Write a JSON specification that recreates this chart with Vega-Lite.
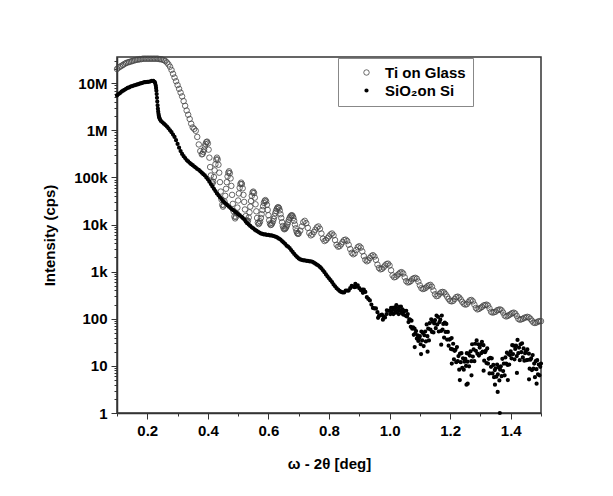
{
"$schema": "https://vega.github.io/schema/vega-lite/v6.json",
"width": 424, "height": 356,
"autosize": {"type": "none"},
"padding": {"left": 117, "top": 57, "right": 72, "bottom": 83},
"background": "white",
"config": {
 "view": {"stroke": "#333333", "strokeWidth": 1.5},
 "font": "Liberation Sans",
 "axis": {"labelFont": "Liberation Sans", "labelFontSize": 15, "labelFontWeight": "bold", "labelColor": "#000000", "titleFont": "Liberation Sans", "titleFontSize": 15, "titleFontWeight": "bold", "titleColor": "#000000", "domainColor": "#333333", "domainWidth": 1.5, "tickColor": "#333333", "tickWidth": 1, "grid": false, "labelOverlap": false, "labelFlush": false, "labelBound": false},
 "legend": {"labelFont": "Liberation Sans", "labelFontSize": 15, "labelFontWeight": "bold", "labelColor": "#000000", "strokeColor": "#888888", "fillColor": "#ffffff", "padding": 7, "symbolOffset": 14, "labelOffset": 11, "rowPadding": 2, "symbolType": "circle", "labelLimit": 200}
},
"data": {"values": [
{"s":"Ti","x":0.1,"y":2.0e7},{"s":"Ti","x":0.105,"y":2.14e7},{"s":"Ti","x":0.11,"y":2.24e7},{"s":"Ti","x":0.115,"y":2.34e7},{"s":"Ti","x":0.12,"y":2.45e7},{"s":"Ti","x":0.125,"y":2.57e7},{"s":"Ti","x":0.13,"y":2.69e7},{"s":"Ti","x":0.135,"y":2.75e7},{"s":"Ti","x":0.14,"y":2.82e7},{"s":"Ti","x":0.145,"y":2.88e7},{"s":"Ti","x":0.15,"y":2.95e7},{"s":"Ti","x":0.155,"y":3.02e7},{"s":"Ti","x":0.16,"y":3.09e7},{"s":"Ti","x":0.165,"y":3.16e7},{"s":"Ti","x":0.17,"y":3.16e7},{"s":"Ti","x":0.175,"y":3.24e7},{"s":"Ti","x":0.18,"y":3.24e7},{"s":"Ti","x":0.185,"y":3.31e7},{"s":"Ti","x":0.19,"y":3.31e7},{"s":"Ti","x":0.195,"y":3.31e7},{"s":"Ti","x":0.2,"y":3.31e7},{"s":"Ti","x":0.205,"y":3.31e7},{"s":"Ti","x":0.21,"y":3.31e7},{"s":"Ti","x":0.215,"y":3.31e7},{"s":"Ti","x":0.22,"y":3.31e7},{"s":"Ti","x":0.225,"y":3.31e7},{"s":"Ti","x":0.23,"y":3.31e7},{"s":"Ti","x":0.235,"y":3.31e7},{"s":"Ti","x":0.24,"y":3.24e7},{"s":"Ti","x":0.245,"y":3.24e7},{"s":"Ti","x":0.25,"y":3.16e7},{"s":"Ti","x":0.255,"y":3.09e7},{"s":"Ti","x":0.26,"y":2.95e7},{"s":"Ti","x":0.265,"y":2.75e7},{"s":"Ti","x":0.27,"y":2.51e7},{"s":"Ti","x":0.275,"y":2.24e7},{"s":"Ti","x":0.28,"y":1.91e7},{"s":"Ti","x":0.285,"y":1.58e7},{"s":"Ti","x":0.29,"y":1.32e7},{"s":"Ti","x":0.295,"y":1.10e7},{"s":"Ti","x":0.3,"y":9.12e6},{"s":"Ti","x":0.305,"y":7.59e6},{"s":"Ti","x":0.31,"y":6.31e6},{"s":"Ti","x":0.315,"y":5.25e6},{"s":"Ti","x":0.32,"y":4.17e6},{"s":"Ti","x":0.325,"y":3.31e6},{"s":"Ti","x":0.33,"y":2.63e6},{"s":"Ti","x":0.335,"y":2.14e6},{"s":"Ti","x":0.34,"y":1.74e6},{"s":"Ti","x":0.345,"y":1.38e6},{"s":"Ti","x":0.35,"y":1.15e6},{"s":"Ti","x":0.355,"y":1.07e6},{"s":"Ti","x":0.36,"y":9.77e5},{"s":"Ti","x":0.365,"y":7.24e5},{"s":"Ti","x":0.37,"y":5.01e5},{"s":"Ti","x":0.375,"y":3.63e5},
{"s":"Ti","x":0.38,"y":3.09e5},{"s":"Ti","x":0.3825,"y":3.16e5},{"s":"Ti","x":0.385,"y":3.47e5},{"s":"Ti","x":0.3875,"y":3.89e5},{"s":"Ti","x":0.39,"y":4.57e5},{"s":"Ti","x":0.3925,"y":5.13e5},{"s":"Ti","x":0.395,"y":5.62e5},{"s":"Ti","x":0.3975,"y":5.75e5},{"s":"Ti","x":0.4,"y":5.25e5},{"s":"Ti","x":0.4025,"y":3.89e5},{"s":"Ti","x":0.405,"y":2.63e5},{"s":"Ti","x":0.4075,"y":1.66e5},{"s":"Ti","x":0.41,"y":1.10e5},{"s":"Ti","x":0.4125,"y":8.13e4},{"s":"Ti","x":0.415,"y":7.41e4},{"s":"Ti","x":0.4175,"y":8.13e4},{"s":"Ti","x":0.42,"y":1.02e5},{"s":"Ti","x":0.4225,"y":1.41e5},{"s":"Ti","x":0.425,"y":1.91e5},{"s":"Ti","x":0.4275,"y":2.40e5},{"s":"Ti","x":0.43,"y":2.63e5},{"s":"Ti","x":0.4325,"y":2.40e5},{"s":"Ti","x":0.435,"y":1.86e5},{"s":"Ti","x":0.4375,"y":1.26e5},{"s":"Ti","x":0.44,"y":7.94e4},{"s":"Ti","x":0.4425,"y":5.01e4},{"s":"Ti","x":0.445,"y":3.39e4},{"s":"Ti","x":0.4475,"y":2.63e4},{"s":"Ti","x":0.45,"y":2.40e4},{"s":"Ti","x":0.4525,"y":2.57e4},{"s":"Ti","x":0.455,"y":3.09e4},{"s":"Ti","x":0.4575,"y":4.07e4},{"s":"Ti","x":0.46,"y":5.75e4},{"s":"Ti","x":0.4625,"y":7.94e4},{"s":"Ti","x":0.465,"y":1.05e5},{"s":"Ti","x":0.4675,"y":1.26e5},{"s":"Ti","x":0.47,"y":1.35e5},{"s":"Ti","x":0.4725,"y":1.23e5},{"s":"Ti","x":0.475,"y":9.55e4},{"s":"Ti","x":0.4775,"y":6.61e4},{"s":"Ti","x":0.48,"y":4.27e4},{"s":"Ti","x":0.4825,"y":2.75e4},{"s":"Ti","x":0.485,"y":1.91e4},{"s":"Ti","x":0.4875,"y":1.48e4},{"s":"Ti","x":0.49,"y":1.35e4},{"s":"Ti","x":0.4925,"y":1.45e4},{"s":"Ti","x":0.495,"y":1.74e4},{"s":"Ti","x":0.4975,"y":2.29e4},{"s":"Ti","x":0.5,"y":3.24e4},{"s":"Ti","x":0.5025,"y":4.57e4},{"s":"Ti","x":0.505,"y":6.03e4},{"s":"Ti","x":0.5075,"y":7.24e4},{"s":"Ti","x":0.51,"y":7.76e4},{"s":"Ti","x":0.5125,"y":7.24e4},{"s":"Ti","x":0.515,"y":5.89e4},{"s":"Ti","x":0.5175,"y":4.27e4},{"s":"Ti","x":0.52,"y":3.02e4},{"s":"Ti","x":0.5225,"y":2.09e4},{"s":"Ti","x":0.525,"y":1.51e4},{"s":"Ti","x":0.5275,"y":1.23e4},{"s":"Ti","x":0.53,"y":1.15e4},{"s":"Ti","x":0.5325,"y":1.20e4},{"s":"Ti","x":0.535,"y":1.41e4},{"s":"Ti","x":0.5375,"y":1.82e4},{"s":"Ti","x":0.54,"y":2.40e4},{"s":"Ti","x":0.5425,"y":3.16e4},{"s":"Ti","x":0.545,"y":4.07e4},{"s":"Ti","x":0.5475,"y":4.79e4},{"s":"Ti","x":0.55,"y":5.01e4},{"s":"Ti","x":0.5525,"y":4.68e4},{"s":"Ti","x":0.555,"y":3.72e4},{"s":"Ti","x":0.5575,"y":2.69e4},{"s":"Ti","x":0.56,"y":1.91e4},{"s":"Ti","x":0.5625,"y":1.38e4},{"s":"Ti","x":0.565,"y":1.10e4},{"s":"Ti","x":0.5675,"y":1.02e4},{"s":"Ti","x":0.57,"y":1.07e4},{"s":"Ti","x":0.5725,"y":1.17e4},{"s":"Ti","x":0.575,"y":1.38e4},{"s":"Ti","x":0.5775,"y":1.66e4},{"s":"Ti","x":0.58,"y":2.04e4},{"s":"Ti","x":0.5825,"y":2.45e4},{"s":"Ti","x":0.585,"y":2.88e4},{"s":"Ti","x":0.5875,"y":3.16e4},{"s":"Ti","x":0.59,"y":3.31e4},{"s":"Ti","x":0.5925,"y":3.09e4},{"s":"Ti","x":0.595,"y":2.63e4},{"s":"Ti","x":0.5975,"y":2.04e4},{"s":"Ti","x":0.6,"y":1.58e4},{"s":"Ti","x":0.6025,"y":1.23e4},{"s":"Ti","x":0.605,"y":1.05e4},{"s":"Ti","x":0.6075,"y":9.77e3},{"s":"Ti","x":0.61,"y":1.0e4},{"s":"Ti","x":0.6125,"y":1.07e4},{"s":"Ti","x":0.615,"y":1.17e4},{"s":"Ti","x":0.6175,"y":1.32e4},{"s":"Ti","x":0.62,"y":1.51e4},{"s":"Ti","x":0.6225,"y":1.74e4},{"s":"Ti","x":0.625,"y":1.95e4},{"s":"Ti","x":0.6275,"y":2.14e4},{"s":"Ti","x":0.63,"y":2.29e4},{"s":"Ti","x":0.6325,"y":2.34e4},{"s":"Ti","x":0.635,"y":2.24e4},{"s":"Ti","x":0.6375,"y":2.0e4},{"s":"Ti","x":0.64,"y":1.66e4},{"s":"Ti","x":0.6425,"y":1.38e4},{"s":"Ti","x":0.645,"y":1.12e4},{"s":"Ti","x":0.6475,"y":9.33e3},{"s":"Ti","x":0.65,"y":8.32e3},{"s":"Ti","x":0.6525,"y":7.94e3},{"s":"Ti","x":0.655,"y":8.13e3},{"s":"Ti","x":0.6575,"y":8.51e3},{"s":"Ti","x":0.66,"y":9.12e3},{"s":"Ti","x":0.6625,"y":1.0e4},{"s":"Ti","x":0.665,"y":1.12e4},{"s":"Ti","x":0.6675,"y":1.26e4},{"s":"Ti","x":0.67,"y":1.38e4},{"s":"Ti","x":0.6725,"y":1.48e4},{"s":"Ti","x":0.675,"y":1.55e4},{"s":"Ti","x":0.6775,"y":1.58e4},{"s":"Ti","x":0.68,"y":1.51e4},{"s":"Ti","x":0.6825,"y":1.38e4},{"s":"Ti","x":0.685,"y":1.20e4},{"s":"Ti","x":0.6875,"y":1.0e4},{"s":"Ti","x":0.69,"y":8.32e3},{"s":"Ti","x":0.6925,"y":7.24e3},{"s":"Ti","x":0.695,"y":6.61e3},{"s":"Ti","x":0.6975,"y":6.31e3},
{"s":"Ti","x":0.7,"y":6.46e3},{"s":"Ti","x":0.705,"y":7.41e3},{"s":"Ti","x":0.71,"y":9.12e3},{"s":"Ti","x":0.715,"y":1.12e4},{"s":"Ti","x":0.72,"y":1.20e4},{"s":"Ti","x":0.725,"y":1.07e4},{"s":"Ti","x":0.73,"y":8.51e3},{"s":"Ti","x":0.735,"y":6.61e3},{"s":"Ti","x":0.74,"y":5.89e3},{"s":"Ti","x":0.745,"y":6.17e3},{"s":"Ti","x":0.75,"y":6.92e3},{"s":"Ti","x":0.755,"y":7.76e3},{"s":"Ti","x":0.76,"y":8.71e3},{"s":"Ti","x":0.765,"y":9.12e3},{"s":"Ti","x":0.77,"y":8.13e3},{"s":"Ti","x":0.775,"y":6.46e3},{"s":"Ti","x":0.78,"y":5.01e3},{"s":"Ti","x":0.785,"y":4.47e3},{"s":"Ti","x":0.79,"y":4.68e3},{"s":"Ti","x":0.795,"y":5.13e3},{"s":"Ti","x":0.8,"y":5.62e3},{"s":"Ti","x":0.805,"y":6.17e3},{"s":"Ti","x":0.81,"y":6.46e3},{"s":"Ti","x":0.815,"y":5.89e3},{"s":"Ti","x":0.82,"y":4.68e3},{"s":"Ti","x":0.825,"y":3.72e3},{"s":"Ti","x":0.83,"y":3.39e3},{"s":"Ti","x":0.835,"y":3.47e3},{"s":"Ti","x":0.84,"y":3.80e3},{"s":"Ti","x":0.845,"y":4.27e3},{"s":"Ti","x":0.85,"y":4.68e3},{"s":"Ti","x":0.855,"y":4.79e3},{"s":"Ti","x":0.86,"y":4.47e3},{"s":"Ti","x":0.865,"y":3.72e3},{"s":"Ti","x":0.87,"y":3.02e3},{"s":"Ti","x":0.875,"y":2.51e3},{"s":"Ti","x":0.88,"y":2.34e3},{"s":"Ti","x":0.885,"y":2.45e3},{"s":"Ti","x":0.89,"y":2.88e3},{"s":"Ti","x":0.895,"y":3.31e3},{"s":"Ti","x":0.9,"y":3.47e3},{"s":"Ti","x":0.905,"y":3.24e3},{"s":"Ti","x":0.91,"y":2.69e3},{"s":"Ti","x":0.915,"y":2.14e3},{"s":"Ti","x":0.92,"y":1.78e3},{"s":"Ti","x":0.925,"y":1.66e3},{"s":"Ti","x":0.93,"y":1.74e3},{"s":"Ti","x":0.935,"y":1.95e3},{"s":"Ti","x":0.94,"y":2.14e3},{"s":"Ti","x":0.945,"y":2.24e3},{"s":"Ti","x":0.95,"y":2.09e3},{"s":"Ti","x":0.955,"y":1.78e3},{"s":"Ti","x":0.96,"y":1.41e3},{"s":"Ti","x":0.965,"y":1.20e3},{"s":"Ti","x":0.97,"y":1.12e3},{"s":"Ti","x":0.975,"y":1.15e3},{"s":"Ti","x":0.98,"y":1.23e3},{"s":"Ti","x":0.985,"y":1.35e3},{"s":"Ti","x":0.99,"y":1.45e3},{"s":"Ti","x":0.995,"y":1.48e3},{"s":"Ti","x":1.0,"y":1.35e3},{"s":"Ti","x":1.005,"y":1.07e3},{"s":"Ti","x":1.01,"y":832},{"s":"Ti","x":1.015,"y":759},{"s":"Ti","x":1.02,"y":776},{"s":"Ti","x":1.025,"y":832},{"s":"Ti","x":1.03,"y":891},{"s":"Ti","x":1.035,"y":955},{"s":"Ti","x":1.04,"y":977},{"s":"Ti","x":1.045,"y":912},{"s":"Ti","x":1.05,"y":759},{"s":"Ti","x":1.055,"y":631},{"s":"Ti","x":1.06,"y":589},{"s":"Ti","x":1.065,"y":603},{"s":"Ti","x":1.07,"y":631},{"s":"Ti","x":1.075,"y":692},{"s":"Ti","x":1.08,"y":724},{"s":"Ti","x":1.085,"y":741},{"s":"Ti","x":1.09,"y":708},{"s":"Ti","x":1.095,"y":617},{"s":"Ti","x":1.1,"y":513},{"s":"Ti","x":1.105,"y":447},{"s":"Ti","x":1.11,"y":427},{"s":"Ti","x":1.115,"y":437},{"s":"Ti","x":1.12,"y":457},{"s":"Ti","x":1.125,"y":490},{"s":"Ti","x":1.13,"y":513},{"s":"Ti","x":1.135,"y":525},{"s":"Ti","x":1.14,"y":479},{"s":"Ti","x":1.145,"y":398},{"s":"Ti","x":1.15,"y":331},{"s":"Ti","x":1.155,"y":302},{"s":"Ti","x":1.16,"y":309},{"s":"Ti","x":1.165,"y":339},{"s":"Ti","x":1.17,"y":363},{"s":"Ti","x":1.175,"y":372},{"s":"Ti","x":1.18,"y":363},{"s":"Ti","x":1.185,"y":331},{"s":"Ti","x":1.19,"y":295},{"s":"Ti","x":1.195,"y":263},{"s":"Ti","x":1.2,"y":240},{"s":"Ti","x":1.205,"y":234},{"s":"Ti","x":1.21,"y":240},{"s":"Ti","x":1.215,"y":263},{"s":"Ti","x":1.22,"y":288},{"s":"Ti","x":1.225,"y":295},{"s":"Ti","x":1.23,"y":282},{"s":"Ti","x":1.235,"y":257},{"s":"Ti","x":1.24,"y":229},{"s":"Ti","x":1.245,"y":209},{"s":"Ti","x":1.25,"y":200},{"s":"Ti","x":1.255,"y":204},{"s":"Ti","x":1.26,"y":224},{"s":"Ti","x":1.265,"y":245},{"s":"Ti","x":1.27,"y":251},{"s":"Ti","x":1.275,"y":234},{"s":"Ti","x":1.28,"y":200},{"s":"Ti","x":1.285,"y":170},{"s":"Ti","x":1.29,"y":158},{"s":"Ti","x":1.295,"y":162},{"s":"Ti","x":1.3,"y":170},{"s":"Ti","x":1.305,"y":178},{"s":"Ti","x":1.31,"y":191},{"s":"Ti","x":1.315,"y":195},{"s":"Ti","x":1.32,"y":200},{"s":"Ti","x":1.325,"y":191},{"s":"Ti","x":1.33,"y":166},{"s":"Ti","x":1.335,"y":141},{"s":"Ti","x":1.34,"y":135},{"s":"Ti","x":1.345,"y":138},{"s":"Ti","x":1.35,"y":141},{"s":"Ti","x":1.355,"y":151},{"s":"Ti","x":1.36,"y":155},{"s":"Ti","x":1.365,"y":158},{"s":"Ti","x":1.37,"y":151},{"s":"Ti","x":1.375,"y":135},{"s":"Ti","x":1.38,"y":117},{"s":"Ti","x":1.385,"y":112},{"s":"Ti","x":1.39,"y":115},{"s":"Ti","x":1.395,"y":120},{"s":"Ti","x":1.4,"y":126},{"s":"Ti","x":1.405,"y":132},{"s":"Ti","x":1.41,"y":135},{"s":"Ti","x":1.415,"y":129},{"s":"Ti","x":1.42,"y":115},{"s":"Ti","x":1.425,"y":100},{"s":"Ti","x":1.43,"y":95.5},{"s":"Ti","x":1.435,"y":97.7},{"s":"Ti","x":1.44,"y":100},{"s":"Ti","x":1.445,"y":105},{"s":"Ti","x":1.45,"y":107},{"s":"Ti","x":1.455,"y":110},{"s":"Ti","x":1.46,"y":107},{"s":"Ti","x":1.465,"y":100},{"s":"Ti","x":1.47,"y":91.2},{"s":"Ti","x":1.475,"y":83.2},{"s":"Ti","x":1.48,"y":81.3},{"s":"Ti","x":1.485,"y":83.2},{"s":"Ti","x":1.49,"y":87.1},{"s":"Ti","x":1.495,"y":89.1},{"s":"Ti","x":1.5,"y":89.1},
{"s":"Si","x":0.1,"y":5.50e6},{"s":"Si","x":0.105,"y":5.89e6},{"s":"Si","x":0.11,"y":6.17e6},{"s":"Si","x":0.115,"y":6.61e6},{"s":"Si","x":0.12,"y":6.92e6},{"s":"Si","x":0.125,"y":7.24e6},{"s":"Si","x":0.13,"y":7.59e6},{"s":"Si","x":0.135,"y":7.94e6},{"s":"Si","x":0.14,"y":8.13e6},{"s":"Si","x":0.145,"y":8.51e6},{"s":"Si","x":0.15,"y":8.71e6},{"s":"Si","x":0.155,"y":8.91e6},{"s":"Si","x":0.16,"y":9.12e6},{"s":"Si","x":0.165,"y":9.33e6},{"s":"Si","x":0.17,"y":9.55e6},{"s":"Si","x":0.175,"y":9.77e6},{"s":"Si","x":0.18,"y":1.0e7},{"s":"Si","x":0.185,"y":1.02e7},{"s":"Si","x":0.19,"y":1.05e7},{"s":"Si","x":0.195,"y":1.05e7},{"s":"Si","x":0.2,"y":1.07e7},{"s":"Si","x":0.205,"y":1.07e7},{"s":"Si","x":0.21,"y":1.10e7},{"s":"Si","x":0.215,"y":1.12e7},{"s":"Si","x":0.22,"y":1.12e7},{"s":"Si","x":0.224,"y":1.07e7},{"s":"Si","x":0.226,"y":1.0e7},{"s":"Si","x":0.228,"y":8.91e6},{"s":"Si","x":0.229,"y":7.94e6},{"s":"Si","x":0.23,"y":6.92e6},{"s":"Si","x":0.231,"y":5.89e6},{"s":"Si","x":0.232,"y":4.90e6},{"s":"Si","x":0.233,"y":4.07e6},{"s":"Si","x":0.234,"y":3.39e6},{"s":"Si","x":0.235,"y":2.88e6},{"s":"Si","x":0.236,"y":2.51e6},{"s":"Si","x":0.237,"y":2.24e6},{"s":"Si","x":0.238,"y":2.04e6},{"s":"Si","x":0.239,"y":1.91e6},{"s":"Si","x":0.24,"y":1.82e6},{"s":"Si","x":0.242,"y":1.70e6},{"s":"Si","x":0.245,"y":1.58e6},{"s":"Si","x":0.25,"y":1.48e6},{"s":"Si","x":0.255,"y":1.38e6},{"s":"Si","x":0.26,"y":1.29e6},{"s":"Si","x":0.265,"y":1.20e6},{"s":"Si","x":0.27,"y":1.10e6},{"s":"Si","x":0.275,"y":1.0e6},{"s":"Si","x":0.28,"y":9.12e5},{"s":"Si","x":0.285,"y":8.13e5},{"s":"Si","x":0.29,"y":7.24e5},{"s":"Si","x":0.295,"y":6.17e5},{"s":"Si","x":0.3,"y":5.13e5},{"s":"Si","x":0.305,"y":4.27e5},{"s":"Si","x":0.31,"y":3.63e5},{"s":"Si","x":0.315,"y":3.16e5},{"s":"Si","x":0.32,"y":2.82e5},{"s":"Si","x":0.325,"y":2.57e5},{"s":"Si","x":0.33,"y":2.34e5},{"s":"Si","x":0.335,"y":2.19e5},{"s":"Si","x":0.34,"y":2.04e5},{"s":"Si","x":0.345,"y":1.91e5},{"s":"Si","x":0.35,"y":1.82e5},{"s":"Si","x":0.355,"y":1.70e5},{"s":"Si","x":0.36,"y":1.62e5},{"s":"Si","x":0.365,"y":1.51e5},{"s":"Si","x":0.37,"y":1.45e5},{"s":"Si","x":0.375,"y":1.35e5},{"s":"Si","x":0.38,"y":1.26e5},{"s":"Si","x":0.385,"y":1.17e5},{"s":"Si","x":0.39,"y":1.10e5},{"s":"Si","x":0.395,"y":1.0e5},{"s":"Si","x":0.4,"y":9.12e4},{"s":"Si","x":0.405,"y":8.13e4},{"s":"Si","x":0.41,"y":7.24e4},{"s":"Si","x":0.415,"y":6.46e4},{"s":"Si","x":0.42,"y":5.75e4},{"s":"Si","x":0.425,"y":5.13e4},{"s":"Si","x":0.43,"y":4.57e4},{"s":"Si","x":0.435,"y":4.17e4},{"s":"Si","x":0.44,"y":3.80e4},{"s":"Si","x":0.445,"y":3.47e4},{"s":"Si","x":0.45,"y":3.16e4},{"s":"Si","x":0.455,"y":2.95e4},{"s":"Si","x":0.46,"y":2.75e4},{"s":"Si","x":0.465,"y":2.57e4},{"s":"Si","x":0.47,"y":2.40e4},{"s":"Si","x":0.475,"y":2.24e4},{"s":"Si","x":0.48,"y":2.09e4},{"s":"Si","x":0.485,"y":2.0e4},{"s":"Si","x":0.49,"y":1.86e4},{"s":"Si","x":0.495,"y":1.78e4},{"s":"Si","x":0.5,"y":1.66e4},{"s":"Si","x":0.505,"y":1.58e4},{"s":"Si","x":0.51,"y":1.48e4},{"s":"Si","x":0.515,"y":1.38e4},{"s":"Si","x":0.52,"y":1.29e4},{"s":"Si","x":0.525,"y":1.17e4},{"s":"Si","x":0.53,"y":1.07e4},{"s":"Si","x":0.535,"y":1.0e4},{"s":"Si","x":0.54,"y":9.33e3},{"s":"Si","x":0.545,"y":8.71e3},{"s":"Si","x":0.55,"y":8.32e3},{"s":"Si","x":0.555,"y":7.76e3},{"s":"Si","x":0.56,"y":7.41e3},{"s":"Si","x":0.565,"y":7.08e3},{"s":"Si","x":0.57,"y":6.76e3},{"s":"Si","x":0.575,"y":6.46e3},{"s":"Si","x":0.58,"y":6.31e3},{"s":"Si","x":0.585,"y":6.17e3},{"s":"Si","x":0.59,"y":6.17e3},{"s":"Si","x":0.595,"y":6.03e3},{"s":"Si","x":0.6,"y":6.03e3},{"s":"Si","x":0.605,"y":5.89e3},{"s":"Si","x":0.61,"y":5.89e3},{"s":"Si","x":0.615,"y":5.75e3},{"s":"Si","x":0.62,"y":5.62e3},{"s":"Si","x":0.625,"y":5.50e3},{"s":"Si","x":0.63,"y":5.25e3},{"s":"Si","x":0.635,"y":5.01e3},{"s":"Si","x":0.64,"y":4.79e3},{"s":"Si","x":0.645,"y":4.47e3},{"s":"Si","x":0.65,"y":4.17e3},{"s":"Si","x":0.655,"y":3.89e3},{"s":"Si","x":0.66,"y":3.55e3},{"s":"Si","x":0.665,"y":3.39e3},{"s":"Si","x":0.67,"y":3.16e3},{"s":"Si","x":0.675,"y":2.88e3},{"s":"Si","x":0.68,"y":2.63e3},{"s":"Si","x":0.685,"y":2.40e3},{"s":"Si","x":0.69,"y":2.19e3},{"s":"Si","x":0.695,"y":2.04e3},{"s":"Si","x":0.7,"y":1.91e3},{"s":"Si","x":0.705,"y":1.82e3},{"s":"Si","x":0.71,"y":1.78e3},{"s":"Si","x":0.715,"y":1.74e3},{"s":"Si","x":0.72,"y":1.74e3},{"s":"Si","x":0.725,"y":1.70e3},{"s":"Si","x":0.73,"y":1.70e3},{"s":"Si","x":0.735,"y":1.66e3},{"s":"Si","x":0.74,"y":1.66e3},{"s":"Si","x":0.745,"y":1.62e3},{"s":"Si","x":0.75,"y":1.55e3},{"s":"Si","x":0.755,"y":1.48e3},{"s":"Si","x":0.76,"y":1.41e3},{"s":"Si","x":0.765,"y":1.35e3},{"s":"Si","x":0.77,"y":1.26e3},{"s":"Si","x":0.775,"y":1.17e3},{"s":"Si","x":0.78,"y":1.07e3},{"s":"Si","x":0.785,"y":977},{"s":"Si","x":0.79,"y":871},{"s":"Si","x":0.795,"y":794},{"s":"Si","x":0.8,"y":724},{"s":"Si","x":0.805,"y":661},{"s":"Si","x":0.81,"y":603},{"s":"Si","x":0.815,"y":537},{"s":"Si","x":0.82,"y":490},{"s":"Si","x":0.825,"y":447},{"s":"Si","x":0.83,"y":417},{"s":"Si","x":0.835,"y":389},{"s":"Si","x":0.84,"y":372},{"s":"Si","x":0.845,"y":363},{"s":"Si","x":0.85,"y":363},{"s":"Si","x":0.855,"y":398},{"s":"Si","x":0.86,"y":398},{"s":"Si","x":0.865,"y":398},{"s":"Si","x":0.87,"y":447},{"s":"Si","x":0.875,"y":501},{"s":"Si","x":0.88,"y":479},{"s":"Si","x":0.885,"y":468},{"s":"Si","x":0.887,"y":550},{"s":"Si","x":0.89,"y":479},{"s":"Si","x":0.895,"y":513},{"s":"Si","x":0.9,"y":447},{"s":"Si","x":0.905,"y":407},{"s":"Si","x":0.91,"y":417},{"s":"Si","x":0.912,"y":355},{"s":"Si","x":0.915,"y":417},{"s":"Si","x":0.92,"y":372},{"s":"Si","x":0.925,"y":288},{"s":"Si","x":0.93,"y":263},{"s":"Si","x":0.935,"y":245},{"s":"Si","x":0.94,"y":200},{"s":"Si","x":0.945,"y":170},{"s":"Si","x":0.95,"y":166},{"s":"Si","x":0.955,"y":166},{"s":"Si","x":0.96,"y":138},{"s":"Si","x":0.962,"y":105},{"s":"Si","x":0.965,"y":115},{"s":"Si","x":0.97,"y":120},{"s":"Si","x":0.975,"y":123},{"s":"Si","x":0.978,"y":95.5},{"s":"Si","x":0.98,"y":112},{"s":"Si","x":0.985,"y":107},{"s":"Si","x":0.99,"y":126},{"s":"Si","x":0.991,"y":151},{"s":"Si","x":0.995,"y":148},
{"s":"Si","x":1.0,"y":148},{"s":"Si","x":1.0025,"y":126},{"s":"Si","x":1.005,"y":170},{"s":"Si","x":1.0075,"y":141},{"s":"Si","x":1.01,"y":170},{"s":"Si","x":1.0125,"y":126},{"s":"Si","x":1.015,"y":158},{"s":"Si","x":1.0175,"y":174},{"s":"Si","x":1.02,"y":135},{"s":"Si","x":1.0225,"y":195},{"s":"Si","x":1.025,"y":145},{"s":"Si","x":1.0275,"y":166},{"s":"Si","x":1.03,"y":126},{"s":"Si","x":1.0325,"y":178},{"s":"Si","x":1.035,"y":148},{"s":"Si","x":1.0375,"y":182},{"s":"Si","x":1.04,"y":132},{"s":"Si","x":1.0425,"y":158},{"s":"Si","x":1.045,"y":123},{"s":"Si","x":1.0475,"y":145},{"s":"Si","x":1.05,"y":148},{"s":"Si","x":1.0525,"y":117},{"s":"Si","x":1.055,"y":148},{"s":"Si","x":1.0575,"y":112},{"s":"Si","x":1.06,"y":126},{"s":"Si","x":1.0625,"y":85.1},{"s":"Si","x":1.065,"y":97.7},{"s":"Si","x":1.0675,"y":95.5},{"s":"Si","x":1.07,"y":67.6},{"s":"Si","x":1.0725,"y":91.2},{"s":"Si","x":1.075,"y":61.7},{"s":"Si","x":1.0775,"y":66.1},{"s":"Si","x":1.08,"y":45.7},{"s":"Si","x":1.0825,"y":61.7},{"s":"Si","x":1.083,"y":25.1},{"s":"Si","x":1.085,"y":49.0},{"s":"Si","x":1.0875,"y":55.0},{"s":"Si","x":1.09,"y":38.0},{"s":"Si","x":1.0925,"y":44.7},{"s":"Si","x":1.095,"y":33.9},{"s":"Si","x":1.0975,"y":38.9},{"s":"Si","x":1.1,"y":42.7},{"s":"Si","x":1.1025,"y":28.8},{"s":"Si","x":1.104,"y":17.8},{"s":"Si","x":1.105,"y":53.7},{"s":"Si","x":1.1075,"y":34.7},{"s":"Si","x":1.11,"y":50.1},{"s":"Si","x":1.1125,"y":26.3},{"s":"Si","x":1.115,"y":44.7},{"s":"Si","x":1.1175,"y":53.7},{"s":"Si","x":1.12,"y":33.1},{"s":"Si","x":1.1225,"y":75.9},{"s":"Si","x":1.125,"y":42.7},{"s":"Si","x":1.1255,"y":20.0},{"s":"Si","x":1.1275,"y":61.7},{"s":"Si","x":1.13,"y":34.7},{"s":"Si","x":1.1325,"y":81.3},{"s":"Si","x":1.135,"y":58.9},{"s":"Si","x":1.1375,"y":97.7},{"s":"Si","x":1.14,"y":52.5},{"s":"Si","x":1.1425,"y":87.1},{"s":"Si","x":1.145,"y":51.3},{"s":"Si","x":1.1475,"y":79.4},{"s":"Si","x":1.15,"y":93.3},{"s":"Si","x":1.1525,"y":63.1},{"s":"Si","x":1.155,"y":117},{"s":"Si","x":1.1575,"y":75.9},{"s":"Si","x":1.16,"y":110},{"s":"Si","x":1.1625,"y":53.7},{"s":"Si","x":1.165,"y":85.1},{"s":"Si","x":1.1675,"y":95.5},{"s":"Si","x":1.17,"y":55.0},{"s":"Si","x":1.1705,"y":28.2},{"s":"Si","x":1.1725,"y":117},{"s":"Si","x":1.175,"y":58.9},{"s":"Si","x":1.1775,"y":77.6},{"s":"Si","x":1.18,"y":39.8},{"s":"Si","x":1.1825,"y":83.2},{"s":"Si","x":1.185,"y":52.5},{"s":"Si","x":1.1875,"y":77.6},{"s":"Si","x":1.19,"y":36.3},{"s":"Si","x":1.1925,"y":52.5},{"s":"Si","x":1.195,"y":26.9},{"s":"Si","x":1.1975,"y":36.3},{"s":"Si","x":1.2,"y":37.2},{"s":"Si","x":1.2025,"y":22.9},{"s":"Si","x":1.205,"y":38.9},{"s":"Si","x":1.2055,"y":11.2},{"s":"Si","x":1.2075,"y":22.4},{"s":"Si","x":1.21,"y":29.5},{"s":"Si","x":1.2125,"y":13.8},{"s":"Si","x":1.215,"y":20.9},{"s":"Si","x":1.2175,"y":21.9},{"s":"Si","x":1.22,"y":12.0},{"s":"Si","x":1.2225,"y":25.1},{"s":"Si","x":1.225,"y":12.6},{"s":"Si","x":1.2275,"y":16.2},{"s":"Si","x":1.23,"y":8.32},{"s":"Si","x":1.232,"y":5.0},{"s":"Si","x":1.2325,"y":18.2},{"s":"Si","x":1.235,"y":12.0},{"s":"Si","x":1.2375,"y":18.6},{"s":"Si","x":1.24,"y":9.12},{"s":"Si","x":1.2425,"y":14.5},{"s":"Si","x":1.245,"y":8.32},{"s":"Si","x":1.2475,"y":12.3},{"s":"Si","x":1.25,"y":14.1},{"s":"Si","x":1.2525,"y":10.0},{"s":"Si","x":1.254,"y":4.0},{"s":"Si","x":1.255,"y":18.6},{"s":"Si","x":1.2575,"y":12.3},{"s":"Si","x":1.258,"y":4.2},{"s":"Si","x":1.26,"y":18.2},{"s":"Si","x":1.2625,"y":9.77},{"s":"Si","x":1.265,"y":16.6},{"s":"Si","x":1.2675,"y":20.4},{"s":"Si","x":1.27,"y":12.6},{"s":"Si","x":1.2705,"y":6.3},{"s":"Si","x":1.2725,"y":28.8},{"s":"Si","x":1.275,"y":15.8},{"s":"Si","x":1.2775,"y":22.4},{"s":"Si","x":1.28,"y":12.6},{"s":"Si","x":1.2825,"y":29.5},{"s":"Si","x":1.285,"y":20.9},{"s":"Si","x":1.2875,"y":34.7},{"s":"Si","x":1.29,"y":18.2},{"s":"Si","x":1.2925,"y":28.8},{"s":"Si","x":1.295,"y":16.6},{"s":"Si","x":1.2975,"y":24.5},{"s":"Si","x":1.3,"y":28.2},{"s":"Si","x":1.3025,"y":18.6},{"s":"Si","x":1.305,"y":32.4},{"s":"Si","x":1.3075,"y":20.0},{"s":"Si","x":1.31,"y":27.5},{"s":"Si","x":1.3105,"y":7.9},{"s":"Si","x":1.3125,"y":12.9},{"s":"Si","x":1.315,"y":19.5},{"s":"Si","x":1.3175,"y":20.9},{"s":"Si","x":1.32,"y":11.5},{"s":"Si","x":1.3225,"y":23.4},{"s":"Si","x":1.325,"y":11.2},{"s":"Si","x":1.3275,"y":14.1},{"s":"Si","x":1.33,"y":6.92},{"s":"Si","x":1.3325,"y":14.8},{"s":"Si","x":1.335,"y":9.55},{"s":"Si","x":1.3375,"y":14.5},{"s":"Si","x":1.34,"y":6.92},{"s":"Si","x":1.3425,"y":10.5},{"s":"Si","x":1.345,"y":5.75},{"s":"Si","x":1.3475,"y":8.13},{"s":"Si","x":1.348,"y":4.0},{"s":"Si","x":1.35,"y":8.91},{"s":"Si","x":1.3525,"y":5.89},{"s":"Si","x":1.355,"y":10.7},{"s":"Si","x":1.357,"y":2.8},{"s":"Si","x":1.3575,"y":6.61},{"s":"Si","x":1.36,"y":9.33},{"s":"Si","x":1.3625,"y":4.90},{"s":"Si","x":1.364,"y":1.0},{"s":"Si","x":1.365,"y":8.32},{"s":"Si","x":1.3675,"y":9.77},{"s":"Si","x":1.37,"y":6.03},{"s":"Si","x":1.3725,"y":14.1},{"s":"Si","x":1.375,"y":7.76},{"s":"Si","x":1.3775,"y":11.2},{"s":"Si","x":1.38,"y":6.31},{"s":"Si","x":1.3825,"y":15.1},{"s":"Si","x":1.385,"y":11.2},{"s":"Si","x":1.3875,"y":19.1},{"s":"Si","x":1.39,"y":10.5},{"s":"Si","x":1.3905,"y":5.0},{"s":"Si","x":1.3925,"y":17.8},{"s":"Si","x":1.395,"y":10.7},{"s":"Si","x":1.3975,"y":17.0},{"s":"Si","x":1.4,"y":20.4},{"s":"Si","x":1.4025,"y":14.5},{"s":"Si","x":1.405,"y":27.5},{"s":"Si","x":1.4075,"y":17.8},{"s":"Si","x":1.41,"y":26.9},{"s":"Si","x":1.4125,"y":13.8},{"s":"Si","x":1.415,"y":22.9},{"s":"Si","x":1.4175,"y":26.9},{"s":"Si","x":1.42,"y":16.2},{"s":"Si","x":1.4205,"y":7.1},{"s":"Si","x":1.4225,"y":35.5},{"s":"Si","x":1.425,"y":18.6},{"s":"Si","x":1.4275,"y":24.5},{"s":"Si","x":1.43,"y":13.2},{"s":"Si","x":1.4325,"y":28.8},{"s":"Si","x":1.435,"y":19.5},{"s":"Si","x":1.4375,"y":30.2},{"s":"Si","x":1.44,"y":15.1},{"s":"Si","x":1.4425,"y":23.4},{"s":"Si","x":1.445,"y":12.9},{"s":"Si","x":1.4475,"y":18.6},{"s":"Si","x":1.45,"y":20.4},{"s":"Si","x":1.4525,"y":13.2},{"s":"Si","x":1.455,"y":22.4},{"s":"Si","x":1.4575,"y":13.5},{"s":"Si","x":1.46,"y":18.2},{"s":"Si","x":1.4605,"y":5.2},{"s":"Si","x":1.4625,"y":8.71},{"s":"Si","x":1.465,"y":13.5},{"s":"Si","x":1.4675,"y":14.5},{"s":"Si","x":1.47,"y":8.13},{"s":"Si","x":1.4725,"y":17.0},{"s":"Si","x":1.475,"y":8.71},{"s":"Si","x":1.4775,"y":11.2},{"s":"Si","x":1.48,"y":5.75},{"s":"Si","x":1.4825,"y":12.6},{"s":"Si","x":1.485,"y":8.51},{"s":"Si","x":1.4855,"y":4.2},{"s":"Si","x":1.4875,"y":13.2},{"s":"Si","x":1.49,"y":6.61},{"s":"Si","x":1.4925,"y":10.7},{"s":"Si","x":1.495,"y":6.31},{"s":"Si","x":1.4975,"y":9.55},{"s":"Si","x":1.5,"y":11.2}
]},
"mark": {"type": "point", "filled": false, "shape": "circle", "opacity": 1},
"encoding": {
 "x": {"field": "x", "type": "quantitative",
  "scale": {"domain": [0.1, 1.5], "nice": false, "zero": false},
  "axis": {"title": "ω - 2θ [deg]", "values": [0.1,0.2,0.3,0.4,0.5,0.6,0.7,0.8,0.9,1.0,1.1,1.2,1.3,1.4,1.5],
   "labelExpr": "round(datum.value*10) % 2 == 0 ? format(datum.value, '.1f') : ''",
   "tickSize": {"condition": {"test": "round(datum.value*10) % 2 == 0", "value": 6}, "value": 3},
   "labelPadding": 4, "titlePadding": 18}},
 "y": {"field": "y", "type": "quantitative",
  "scale": {"type": "log", "domain": [1, 36000000], "nice": false},
  "axis": {"title": "Intensity (cps)",
   "values": [1,2,3,4,5,6,7,8,9,10,20,30,40,50,60,70,80,90,100,200,300,400,500,600,700,800,900,1000,2000,3000,4000,5000,6000,7000,8000,9000,10000,20000,30000,40000,50000,60000,70000,80000,90000,100000,200000,300000,400000,500000,600000,700000,800000,900000,1000000,2000000,3000000,4000000,5000000,6000000,7000000,8000000,9000000,10000000,20000000,30000000],
   "labelExpr": "datum.value==1?'1':datum.value==10?'10':datum.value==100?'100':datum.value==1000?'1k':datum.value==10000?'10k':datum.value==100000?'100k':datum.value==1000000?'1M':datum.value==10000000?'10M':''",
   "tickSize": {"condition": {"test": "indexof([1,10,100,1000,10000,100000,1000000,10000000], datum.value) >= 0", "value": 6}, "value": 3},
   "labelPadding": 4, "titlePadding": 16}},
 "color": {"field": "s", "type": "nominal", "scale": {"domain": ["Ti", "Si"], "range": ["#444444", "#000000"]},
  "legend": {"title": null, "orient": "none", "legendX": 221, "legendY": 1, "labelExpr": "datum.label == 'Ti' ? 'Ti on Glass' : 'SiO₂on Si'"}},
 "size": {"field": "s", "type": "nominal", "scale": {"domain": ["Ti", "Si"], "range": [30, 5]},
  "legend": {"title": null, "orient": "none", "legendX": 221, "legendY": 1, "labelExpr": "datum.label == 'Ti' ? 'Ti on Glass' : 'SiO₂on Si'"}},
 "strokeWidth": {"field": "s", "type": "nominal", "scale": {"domain": ["Ti", "Si"], "range": [0.8, 2]},
  "legend": {"title": null, "orient": "none", "legendX": 221, "legendY": 1, "labelExpr": "datum.label == 'Ti' ? 'Ti on Glass' : 'SiO₂on Si'"}},
 "order": {"value": 0}
}
}
